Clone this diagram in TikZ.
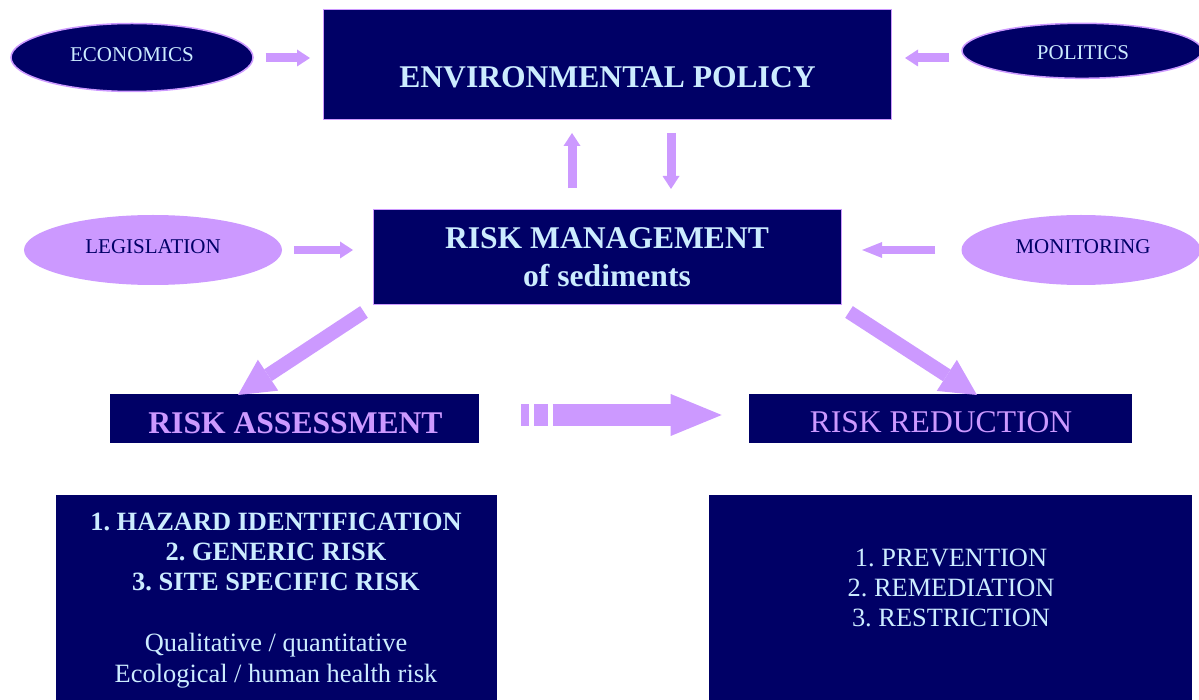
\documentclass[tikz,border=0pt]{standalone}
\usepackage{fontspec}
\setmainfont{Liberation Serif}
\usetikzlibrary{arrows.meta,shapes.geometric,calc}
\definecolor{navy}{HTML}{000066}
\definecolor{lav}{HTML}{CC99FF}
\definecolor{ice}{HTML}{CCECFF}
\frenchspacing
\begin{document}
\begin{tikzpicture}[x=1pt,y=-1pt,
  panel/.style={fill=navy, draw=none, inner sep=0pt, outer sep=0pt},
  framed/.style={panel, draw=lav, line width=1.5pt},
  darkoval/.style={ellipse, fill=navy, draw=lav, line width=1.5pt, inner sep=0pt},
  lightoval/.style={ellipse, fill=lav, draw=none, inner sep=0pt},
  txt/.style={anchor=base, inner sep=0pt},
  headfont/.style={font=\fontsize{31.6}{38}\selectfont\bfseries},
  headplain/.style={font=\fontsize{31.6}{38}\selectfont},
  smallfont/.style={font=\fontsize{21}{25}\selectfont},
  listbold/.style={font=\fontsize{26.4}{30}\selectfont\bfseries},
  listfont/.style={font=\fontsize{26.4}{30}\selectfont},
  thinarrow/.style={draw=lav, line width=9pt,
    -{Triangle[length=13pt,width=17pt,line width=0pt]}},
  diagarrow/.style={draw=lav, line width=14pt,
    -{Triangle[length=36pt,width=37pt,line width=0pt]}},
  widearrow/.style={draw=lav, line width=22pt,
    -{Triangle[length=51pt,width=42pt,line width=0pt]}}]
\useasboundingbox (0,0) rectangle (1199,700);
\clip (0,0) rectangle (1199,700);

% main boxes
\node[framed, minimum width=568pt, minimum height=110pt] (env) at (607.5,64.5) {};
\node[framed, minimum width=468pt, minimum height=95pt] (rm) at (607.5,257) {};
\node[panel, minimum width=369pt, minimum height=49pt] (ra) at (294.5,418.5) {};
\node[panel, minimum width=383pt, minimum height=49pt] (rr) at (940.5,418.5) {};
\node[panel, minimum width=441pt, minimum height=210pt] (steps) at (276.5,600) {};
\node[panel, minimum width=483pt, minimum height=210pt] (actions) at (950.5,600) {};

% ovals
\node[darkoval, minimum width=242pt, minimum height=68pt] (econ) at (132,57.5) {};
\node[darkoval, minimum width=240pt, minimum height=55pt] (pol) at (1082,50.8) {};
\node[lightoval, minimum width=258pt, minimum height=70pt] (leg) at (153,250) {};
\node[lightoval, minimum width=239pt, minimum height=70pt] (mon) at (1081,250) {};

% texts
\node[txt, headfont, text=ice] (envt) at (607.5,87.5) {ENVIRONMENTAL POLICY};
\node[txt, headfont, text=ice] (rmt1) at (607,248.5) {RISK MANAGEMENT};
\node[txt, headfont, text=ice] (rmt2) at (607,286.5) {of sediments};
\node[txt, headfont, text=lav] (rat) at (295.5,433.5) {RISK ASSESSMENT};
\node[txt, headplain, text=lav] (rrt) at (941,432.5) {RISK REDUCTION};
\node[txt, smallfont, text=ice] (econt) at (132,61.7) {ECONOMICS};
\node[txt, smallfont, text=ice] (polt) at (1083,59.3) {POLITICS};
\node[txt, smallfont, text=navy] (legt) at (153,254) {LEGISLATION};
\node[txt, smallfont, text=navy] (mont) at (1083,254) {MONITORING};

\node[txt, listbold, text=ice] (s1) at (276,530) {1. HAZARD IDENTIFICATION};
\node[txt, listbold, text=ice] (s2) at (276,560) {2. GENERIC RISK};
\node[txt, listbold, text=ice] (s3) at (276,590) {3. SITE SPECIFIC RISK};
\node[txt, listfont, text=ice] (s4) at (276,651.7) {Qualitative / quantitative};
\node[txt, listfont, text=ice] (s5) at (276,682.5) {Ecological / human health risk};

\node[txt, listfont, text=ice] (a1) at (951,566) {1. PREVENTION};
\node[txt, listfont, text=ice] (a2) at (951,596) {2. REMEDIATION};
\node[txt, listfont, text=ice] (a3) at (951,626.5) {3. RESTRICTION};

% arrow end points
\coordinate (econA) at (265.5,58);  \coordinate (econB) at (310,58);
\coordinate (polA) at (949,58);     \coordinate (polB) at (905,58);
\coordinate (upA) at (572,188.5);   \coordinate (upB) at (572,133);
\coordinate (dnA) at (671,133);     \coordinate (dnB) at (671,189);
\coordinate (legA) at (294,250);    \coordinate (legB) at (353,250);
\coordinate (monA) at (935,250);    \coordinate (monB) at (862,250);
\coordinate (raA) at (364,312);     \coordinate (raB) at (238,395);
\coordinate (rrA) at (849,312);     \coordinate (rrB) at (977,395);
\coordinate (goA) at (552.7,415);   \coordinate (goB) at (721.7,415);

% connectors
\draw[thinarrow] (econA) -- (econB);
\draw[thinarrow] (polA) -- (polB);
\draw[thinarrow] (upA) -- (upB);
\draw[thinarrow] (dnA) -- (dnB);
\draw[thinarrow, line width=8.5pt] (legA) -- (legB);
\draw[thinarrow, line width=8.5pt,
  -{Triangle[length=20pt,width=16pt,line width=0pt]}] (monA) -- (monB);
\draw[diagarrow] (raA) -- (raB);
\draw[diagarrow] (rrA) -- (rrB);

% broken tail and shaft of the wide arrow
\fill[lav] ($(goA)+(-31.4,-11)$) rectangle ($(goA)+(-23.7,11)$);
\fill[lav] ($(goA)+(-18.7,-11)$) rectangle ($(goA)+(-4.7,11)$);
\draw[widearrow] (goA) -- (goB);
\end{tikzpicture}
\end{document}
